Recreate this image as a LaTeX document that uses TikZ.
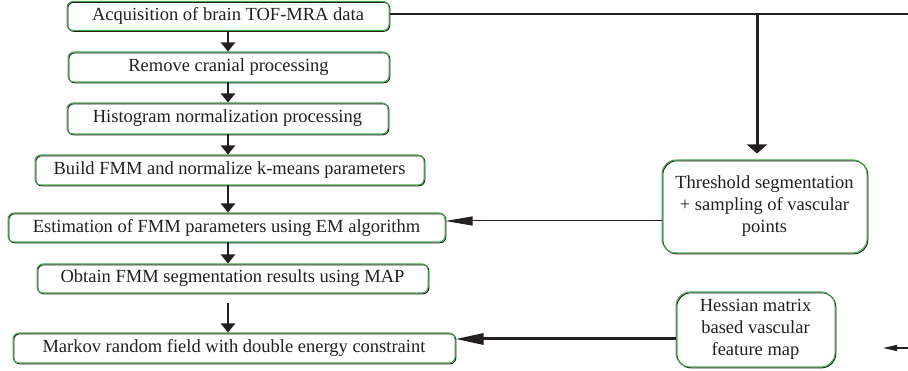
\documentclass[tikz,border=0pt]{standalone}
\usepackage{fontspec}
\setmainfont{Liberation Serif}
\usetikzlibrary{arrows.meta}
\definecolor{boxgreen}{RGB}{64,170,72}
\definecolor{inkgray}{RGB}{35,31,32}

\begin{document}
\begin{tikzpicture}[x=1pt, y=-1pt]
\tikzset{stepbox/.style={draw=boxgreen, line width=1pt, rounded corners=6pt, inner sep=0pt,
    align=center, text=inkgray, font=\fontsize{18.5}{22}\selectfont,
    preaction={draw=inkgray, line width=1pt, transform canvas={shift={(0.8pt,-0.8pt)}}}}}
\tikzset{sidebox/.style={stepbox, rounded corners=14pt}}
\tikzset{flow/.style={draw=inkgray, line width=2.2pt, -{Triangle[width=14pt,length=9pt]}}}

\useasboundingbox (0,0) rectangle (908,371);

%% Main flow
\begin{scope}
    \node[stepbox, minimum width=322pt, minimum height=29pt] at (228, 16) (s1) {Acquisition of brain TOF-MRA data};
    \node[stepbox, minimum width=321pt, minimum height=30pt] at (228.5, 67) (s2) {Remove cranial processing};
    \node[stepbox, minimum width=321pt, minimum height=31pt] at (227.5, 118.5) (s3) {Histogram normalization processing};
    \node[stepbox, minimum width=389pt, minimum height=30pt] at (229.5, 170) (s4) {Build FMM and normalize k-means parameters};
    \node[stepbox, minimum width=437pt, minimum height=29pt] at (226.5, 227.5) (s5) {Estimation of FMM parameters using EM algorithm};
    \node[stepbox, minimum width=391pt, minimum height=29pt] at (232.5, 278.5) (s6) {Obtain FMM segmentation results using MAP};
    \node[stepbox, minimum width=442pt, minimum height=30pt] at (234, 348) (s7) {Markov random field with double energy constraint};
\end{scope}

  \coordinate (m6) at (228, 303);
  \draw[flow] (s1.south) -- (s1.south |- s2.north);
  \draw[flow] (s1.south |- s2.south) -- (s1.south |- s3.north);
  \draw[flow] (s1.south |- s3.south) -- (s1.south |- s4.north);
  \draw[flow] (s1.south |- s4.south) -- (s1.south |- s5.north);
  \draw[flow] (s1.south |- s5.south) -- (s1.south |- s6.north);
  \draw[flow] (m6) -- (m6 |- s7.north);

%% Side branch
\begin{scope}
    \node[sidebox, minimum width=205pt, minimum height=93pt] at (764.5, 206.5) (t1) {Threshold segmentation\\+ sampling of vascular\\points};
    \node[sidebox, minimum width=159pt, minimum height=75pt] at (755.5, 329.5) (h1) {Hessian matrix\\based vascular\\feature map};
\end{scope}

  \coordinate (r1) at (908, 14);
  \coordinate (j1) at (757, 14);
  \coordinate (t1w) at (662, 221);
  \coordinate (h1w) at (676, 339);
  \coordinate (r2) at (908, 348);
  \coordinate (r3) at (883, 348);

  \draw[draw=inkgray, line width=2pt] (s1.east |- r1) -- (r1);
  \draw[draw=inkgray, line width=3pt, shorten >=6pt, -{Triangle[width=20pt,length=9pt]}] (j1) -- (j1 |- t1.north);
  \draw[draw=inkgray, line width=1pt, -{Triangle[width=9pt,length=27pt]}] (t1w) -- (s5.east |- t1w);
  \draw[draw=inkgray, line width=3pt, -{Triangle[width=11pt,length=28pt]}] (h1w) -- (s7.east |- h1w);
  \draw[draw=inkgray, line width=1.3pt, -{Triangle[width=6pt,length=14pt]}] (r2) -- (r3);

\end{tikzpicture}
\end{document}
